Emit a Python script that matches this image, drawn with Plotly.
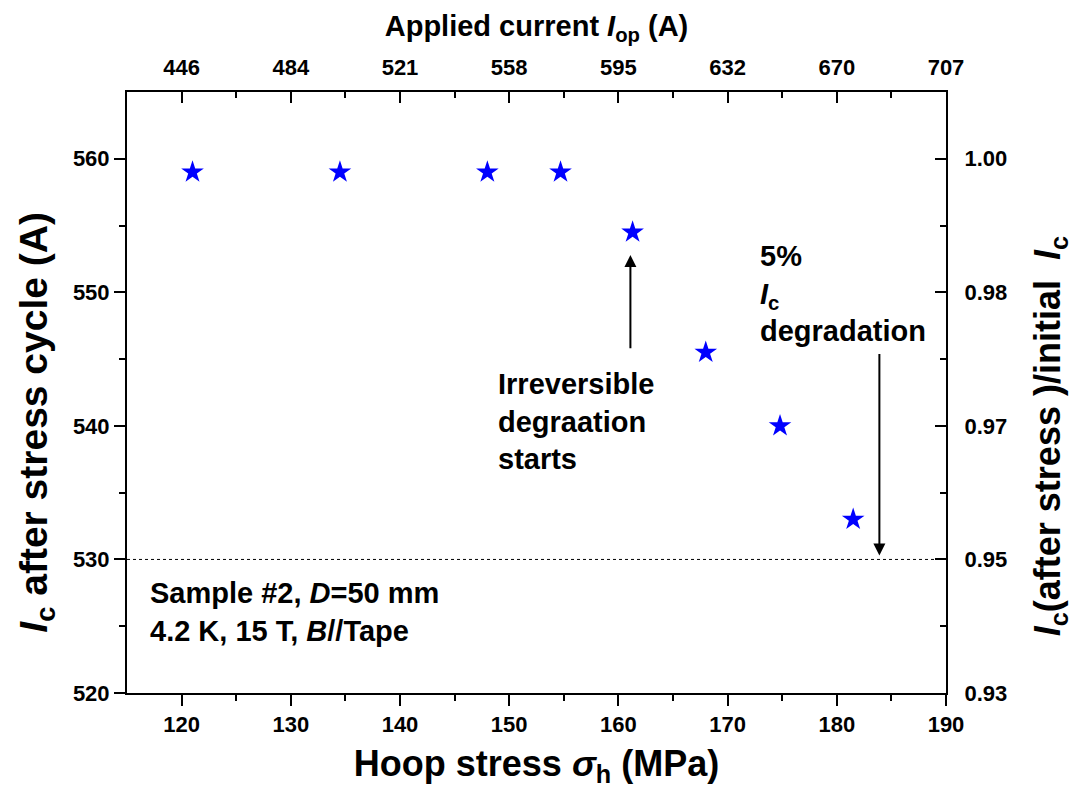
import plotly.graph_objects as go

# ---- data ----
hoop_stress = [121.0, 134.5, 148.0, 154.7, 161.3, 168.0, 174.8, 181.5]   # MPa
ic_after = [559.0, 559.0, 559.0, 559.0, 554.5, 545.5, 540.0, 533.0]      # A

x_ticks = [120, 130, 140, 150, 160, 170, 180, 190]
top_tick_labels = ["446", "484", "521", "558", "595", "632", "670", "707"]
y_ticks = [520, 530, 540, 550, 560]
right_tick_labels = ["0.93", "0.95", "0.97", "0.98", "1.00"]

threshold_ic = 530.0
arrow1 = dict(x=161.1, y_tail=545.7, y_head=552.8)
arrow2 = dict(x=183.9, y_tail=545.5, y_head=530.3)

FONT = "Liberation Sans, Arial, sans-serif"
X_RANGE = [115, 190]
Y_RANGE = [520, 565]

fig = go.Figure()

fig.add_trace(go.Scatter(
    x=hoop_stress, y=ic_after, mode="markers",
    marker=dict(symbol="star", size=17, color="#0000ff", line=dict(width=0)),
    showlegend=False, xaxis="x", yaxis="y",
))
# invisible trace so that the secondary (top / right) axes are drawn
fig.add_trace(go.Scatter(
    x=hoop_stress, y=ic_after, mode="markers",
    marker=dict(size=1, opacity=0), hoverinfo="skip",
    showlegend=False, xaxis="x2", yaxis="y2",
))

# dashed 5% line
fig.add_shape(type="line", xref="x", yref="y", x0=X_RANGE[0], x1=X_RANGE[1],
              y0=threshold_ic, y1=threshold_ic,
              line=dict(color="black", width=1, dash="3px,3px"))

# arrows
for a in (arrow1, arrow2):
    fig.add_annotation(x=a["x"], y=a["y_head"], ax=a["x"], ay=a["y_tail"],
                       xref="x", yref="y", axref="x", ayref="y",
                       text="", showarrow=True, arrowhead=2, arrowsize=1.2,
                       arrowwidth=2, arrowcolor="black")

ann_font = dict(family=FONT, size=29, color="black", weight="bold")
fig.add_annotation(x=148.8, y=540.3, xref="x", yref="y", xanchor="left", yanchor="middle",
                   align="left", showarrow=False, font=ann_font,
                   text="Irreversible<br>degraation<br>starts")
fig.add_annotation(x=172.8, y=549.9, xref="x", yref="y", xanchor="left", yanchor="middle",
                   align="left", showarrow=False, font=ann_font,
                   text="5%<br><i>I</i><sub>c</sub><br>degradation")
fig.add_annotation(x=116.9, y=526.1, xref="x", yref="y", xanchor="left", yanchor="middle",
                   align="left", showarrow=False, font=ann_font,
                   text="Sample #2, <i>D</i>=50 mm<br>4.2 K, 15 T, <i>B</i>//Tape")

# side axis titles (placed as rotated annotations)
fig.add_annotation(x=-0.111, y=0.45, xref="paper", yref="paper", xanchor="center",
                   yanchor="middle", textangle=-90, showarrow=False,
                   font=dict(family=FONT, size=39, weight="bold", color="black"),
                   text="<i>I</i><sub>c</sub> after stress cycle (A)")
fig.add_annotation(x=1.128, y=0.427, xref="paper", yref="paper", xanchor="center",
                   yanchor="middle", textangle=-90, showarrow=False,
                   font=dict(family=FONT, size=36, weight="bold", color="black"),
                   text="<i>I</i><sub>c</sub>(after stress )/initial\u00a0\u00a0<i>I</i><sub>c</sub>")

tick_font = dict(family=FONT, size=22, color="black", weight="bold")
common = dict(showline=True, linecolor="black", linewidth=2, mirror=False,
              showgrid=False, zeroline=False, tickfont=tick_font,
              tickcolor="black", tickwidth=2)

fig.update_layout(
    width=1075, height=808,
    margin=dict(l=127, r=129, t=92, b=115),
    paper_bgcolor="white", plot_bgcolor="white",
    font=dict(family=FONT, color="black"),
    xaxis=dict(
        range=X_RANGE, tickvals=x_ticks, ticks="outside", ticklen=11,
        minor=dict(tickvals=[125, 135, 145, 155, 165, 175, 185], ticks="outside",
                   ticklen=6, tickwidth=2, tickcolor="black"),
        title=dict(text="Hoop stress <i>σ</i><sub>h</sub> (MPa)", standoff=14,
                   font=dict(family=FONT, size=36, weight="bold", color="black")),
        **common),
    xaxis2=dict(
        range=X_RANGE, overlaying="x", side="top", anchor="y",
        tickvals=x_ticks, ticktext=top_tick_labels, ticks="inside", ticklen=11,
        minor=dict(tickvals=[125, 135, 145, 155, 165, 175, 185], ticks="inside",
                   ticklen=6, tickwidth=2, tickcolor="black"),
        ticklabelstandoff=6,
        title=dict(text="Applied current <i>I</i><sub>op</sub> (A)", standoff=10,
                   font=dict(family=FONT, size=29, weight="bold", color="black")),
        **common),
    yaxis=dict(
        range=Y_RANGE, tickvals=y_ticks, ticks="outside", ticklen=11,
        minor=dict(tickvals=[525, 535, 545, 555], ticks="outside",
                   ticklen=6, tickwidth=2, tickcolor="black"),
        **common),
    yaxis2=dict(
        range=Y_RANGE, overlaying="y", side="right", anchor="x",
        tickvals=y_ticks, ticktext=right_tick_labels, ticks="inside", ticklen=11,
        minor=dict(tickvals=[525, 535, 545, 555], ticks="inside",
                   ticklen=6, tickwidth=2, tickcolor="black"),
        ticklabelstandoff=12,
        **common),
)

fig.write_html("out.html")
